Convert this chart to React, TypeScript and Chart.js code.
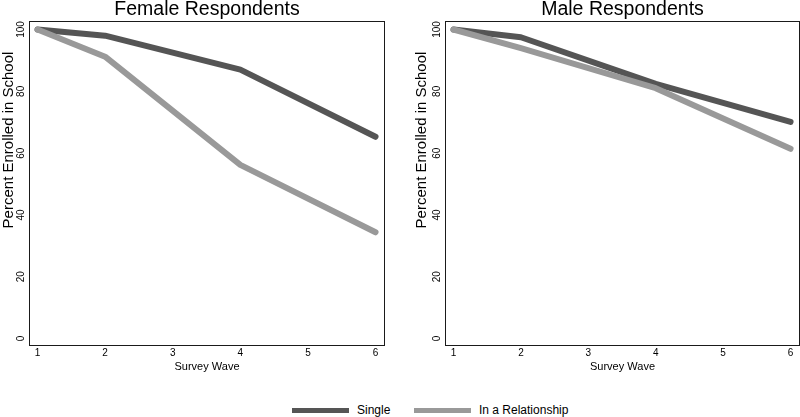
import React, { useEffect, useRef } from "react";
import { Chart, registerables } from "chart.js";

Chart.register(...registerables);

// ---- data ----
const waves = [1, 2, 4, 6];
const xTickValues = [1, 2, 3, 4, 5, 6];
const yTickValues = [0, 20, 40, 60, 80, 100];
const femaleSingle = [100, 98, 87, 65.3];
const femaleRelationship = [100, 91.2, 56.2, 34.4];
const maleSingle = [100, 97.5, 82.4, 70.1];
const maleRelationship = [100, 94, 81, 61.4];
const seriesNames = ["Single", "In a Relationship"];
const seriesColors = ["#555555", "#999999"];
const panelTitles = ["Female Respondents", "Male Respondents"];
const yAxisTitle = "Percent Enrolled in School";
const xAxisTitle = "Survey Wave";

const FONT = "'Liberation Sans', Arial, Helvetica, sans-serif";

type PanelProps = {
  title: string;
  single: number[];
  rel: number[];
  leftPad: number;
  rightPad: number;
  yTitleGap: number;
  left: number;
};

function Panel({ title, single, rel, leftPad, rightPad, yTitleGap, left }: PanelProps) {
  const ref = useRef<HTMLCanvasElement | null>(null);
  useEffect(() => {
    if (!ref.current) return;
    const framePlugin = {
      id: "frame",
      afterDraw(chart: any) {
        const { ctx, chartArea } = chart;
        const { left: l, top: t, right: r, bottom: b } = chartArea;
        const y = chart.scales.y;
        ctx.save();
        ctx.strokeStyle = "#1a1a1a";
        ctx.lineWidth = 1;
        ctx.strokeRect(l + 0.5, t + 0.5, r - l - 1, b - t - 1);
        ctx.fillStyle = "#000";
        // panel title
        ctx.font = `19.5px ${FONT}`;
        ctx.textAlign = "center";
        ctx.textBaseline = "alphabetic";
        ctx.fillText(title, (l + r) / 2, 15);
        // x title
        ctx.font = `11px ${FONT}`;
        ctx.fillText(xAxisTitle, (l + r) / 2, 369.5);
        // y tick labels (rotated)
        ctx.font = `10px ${FONT}`;
        ctx.textBaseline = "middle";
        yTickValues.forEach((v) => {
          const py = y.getPixelForValue(v);
          ctx.save();
          ctx.translate(l - 7.5, py);
          ctx.rotate(-Math.PI / 2);
          ctx.fillText(String(v), 0, 0);
          ctx.restore();
        });
        // y title
        ctx.font = `15px ${FONT}`;
        ctx.save();
        ctx.translate(l - yTitleGap, 140);
        ctx.rotate(-Math.PI / 2);
        ctx.fillText(yAxisTitle, 0, 0);
        ctx.restore();
        ctx.restore();
      },
    };
    const mk = (vals: number[]) => waves.map((w, i) => ({ x: w, y: vals[i] }));
    const chart = new Chart(ref.current, {
      type: "line",
      data: {
        datasets: [
          {
            label: seriesNames[1],
            data: mk(rel),
            borderColor: seriesColors[1],
            backgroundColor: seriesColors[1],
            borderWidth: 6,
            pointRadius: 0,
            borderCapStyle: "round",
            borderJoinStyle: "round",
            tension: 0,
            order: 0,
          },
          {
            label: seriesNames[0],
            data: mk(single),
            borderColor: seriesColors[0],
            backgroundColor: seriesColors[0],
            borderWidth: 6,
            pointRadius: 0,
            borderCapStyle: "round",
            borderJoinStyle: "round",
            tension: 0,
            order: 1,
          },
        ],
      },
      options: {
        animation: false,
        responsive: false,
        maintainAspectRatio: false,
        layout: { padding: { top: 21, left: 0, right: rightPad, bottom: 0 } },
        plugins: {
          legend: { display: false },
          title: { display: false },
          tooltip: { enabled: false },
        },
        scales: {
          x: {
            type: "linear",
            min: 0.874,
            max: 6.14,
            grid: { display: false, drawTicks: false },
            border: { display: false },
            ticks: {
              font: { family: FONT, size: 10 },
              color: "#000",
              padding: 1,
              autoSkip: false,
              maxRotation: 0,
            },
            afterBuildTicks: (s: any) => {
              s.ticks = xTickValues.map((v) => ({ value: v }));
            },
            afterFit: (s: any) => {
              s.height = 34;
            },
          },
          y: {
            type: "linear",
            min: -2.4,
            max: 102.75,
            grid: { display: false, drawTicks: false },
            border: { display: false },
            ticks: { display: false },
            afterFit: (s: any) => {
              s.width = leftPad;
            },
          },
        },
      },
      plugins: [framePlugin],
    } as any);
    return () => chart.destroy();
  }, [title, single, rel, leftPad, rightPad, yTitleGap]);
  return (
    <canvas
      ref={ref}
      width={400}
      height={380}
      style={{ position: "absolute", left, top: 0, width: 400, height: 380 }}
    />
  );
}

export default function App() {
  const legendText: React.CSSProperties = {
    position: "absolute",
    top: 404,
    height: 13,
    lineHeight: "13px",
    fontSize: 12,
    fontFamily: FONT,
    color: "#000",
    whiteSpace: "nowrap",
  };
  return (
    <div
      style={{
        position: "fixed",
        left: 0,
        top: 0,
        width: 800,
        height: 417,
        background: "#fff",
        overflow: "hidden",
      }}
    >
      <Panel title={panelTitles[0]} single={femaleSingle} rel={femaleRelationship} leftPad={29} rightPad={15} yTitleGap={20} left={0} />
      <Panel title={panelTitles[1]} single={maleSingle} rel={maleRelationship} leftPad={45} rightPad={0} yTitleGap={23} left={400} />
      <div style={{ position: "absolute", left: 292, top: 408, width: 57, height: 5, background: seriesColors[0] }} />
      <div style={{ ...legendText, left: 357 }}>{seriesNames[0]}</div>
      <div style={{ position: "absolute", left: 414, top: 408, width: 57, height: 5, background: seriesColors[1] }} />
      <div style={{ ...legendText, left: 479 }}>{seriesNames[1]}</div>
    </div>
  );
}
